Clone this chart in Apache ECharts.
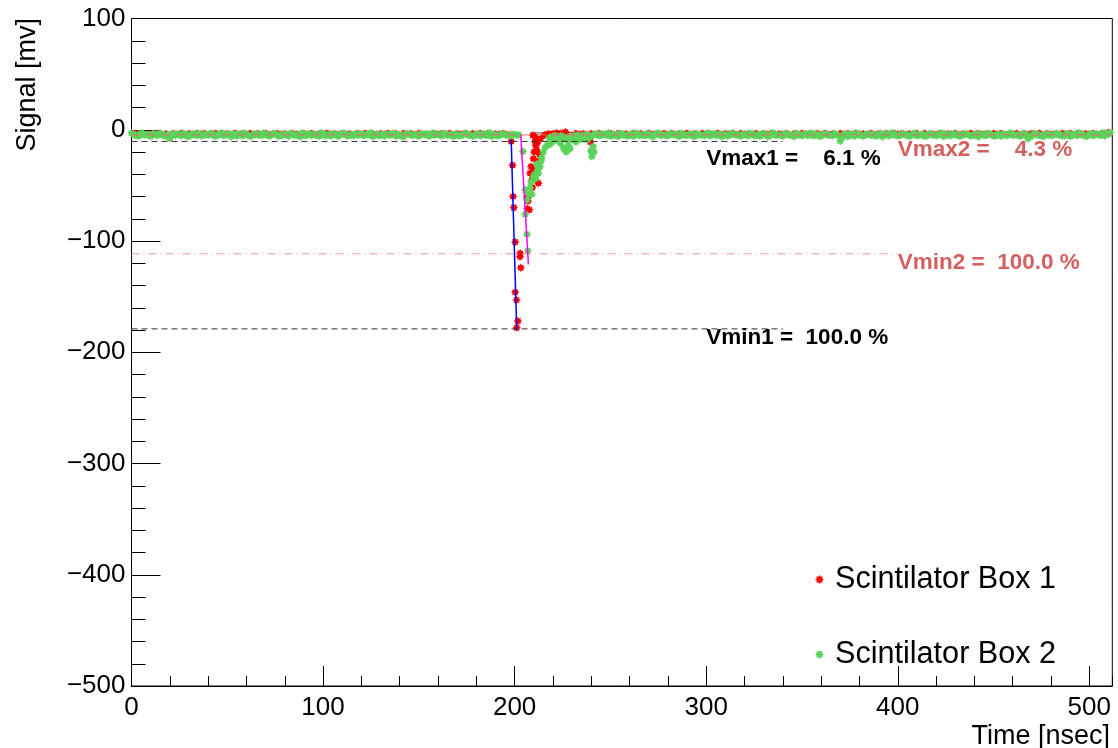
<!DOCTYPE html>
<html><head><meta charset="utf-8">
<script src="https://cdn.jsdelivr.net/npm/echarts@6/dist/echarts.min.js"></script>
<style>html,body{margin:0;padding:0;background:#fff}#c{width:1118px;height:748px}</style>
</head><body><div id="c"></div>
<script>
// ---- data (mV vs nsec) ----
const baseStep = 2; // baseline samples every 2 ns (even: t=0..510, odd: t=1..511)
const redBase = [
 -2.9,-2.4,-3.3,-2.6,-3.6,-2.8,-3.1,-2.3,-3.4,-2.7,-8.5,-2.5,-3.2,-2.2,-3.5,-2.6,-3.7,-2.4,-3.0,-2.3,
 -3.3,-2.7,-2.4,-3.5,-2.9,-2.5,-3.1,-2.2,-3.4,-2.6,-3.0,-2.4,-3.7,-2.5,-3.2,-2.3,-3.5,-2.8,-2.4,-3.1,
 -2.6,-3.4,-2.3,-3.0,-3.6,-2.5,-2.9,-2.4,-3.3,-2.7,-3.5,-2.2,-3.0,-2.6,-3.4,-2.4,-3.1,-2.7,-3.7,-2.5,
 -2.9,-2.3,-3.4,-2.7,-3.2,-2.5,-3.0,-2.2,-3.3,-2.6,-3.6,-2.4,-2.9,-2.5,-3.4,-2.3,-3.1,-2.8,-3.5,-2.4,
 -3.0,-2.6,-3.3,-2.2,-3.5,-2.6,-3.1,-2.4,-3.7,-2.5,-2.9,-2.4,-3.2,-2.3,-3.4,-2.8,-3.0,-2.4,-3.3,-3.6,
 null,null,null,null,null,null,null,null,null,-2.8,-2.5,-3.3,-2.3,-2.8,-3.5,-3.9,-2.4,-3.1,-2.6,-3.4,
 -2.6,-3.2,-2.3,-3.5,-2.9,-2.4,-3.6,-2.3,-3.1,-2.7,-3.4,-2.4,-3.0,-2.5,-3.5,-2.2,-3.2,-2.7,-3.3,-2.4,
 -3.1,-2.4,-3.5,-2.8,-2.9,-2.3,-3.3,-2.6,-3.6,-2.4,-3.0,-2.7,-3.4,-2.3,-3.2,-2.5,-2.9,-2.2,-3.5,-2.4,
 -3.0,-2.8,-3.3,-2.4,-3.5,-2.6,-3.1,-2.2,-3.4,-2.7,-2.9,-2.4,-3.7,-2.5,-3.2,-2.3,-3.0,-2.7,-3.5,-2.4,
 -3.1,-2.3,-3.3,-2.8,-3.6,-2.4,-2.9,-2.5,-3.4,-2.3,-3.2,-2.7,-3.0,-2.2,-3.5,-2.6,-3.1,-2.4,-3.6,-2.3,
 -2.9,-2.5,-3.3,-2.8,-3.0,-2.3,-3.6,-2.4,-3.1,-2.7,-3.4,-2.3,-3.2,-2.6,-2.9,-2.4,-3.5,-2.8,-3.1,-2.2,
 -3.3,-2.5,-3.0,-2.7,-3.6,-2.3,-2.9,-2.4,-3.4,-2.8,-3.1,-2.3,-3.5,-2.6,-3.2,-2.4,-3.0,-2.2,-3.4,-2.5,
 -3.1,-2.7,-3.3,-2.3,-2.9,-2.4,-3.5,-2.2,-3.2,-2.6,-3.0,-2.4,-3.4,-2.8,-2.2,-1.6
];
const greenBaseEven = [
 -3.2,-4.8,-5.6,-3.9,-4.4,-6.1,-3.5,-5.0,-4.2,-5.8,-7.5,-4.6,-3.8,-5.3,-4.1,-6.0,-3.6,-4.9,-5.4,-4.0,
 -4.7,-3.4,-5.9,-4.3,-5.1,-3.7,-6.2,-4.5,-3.9,-5.5,-4.2,-6.0,-3.6,-4.8,-5.2,-4.0,-5.7,-3.5,-4.6,-5.3,
 -4.1,-5.8,-3.8,-4.9,-6.3,-4.4,-3.6,-5.2,-4.7,-5.9,-3.9,-4.5,-5.6,-4.0,-6.1,-3.7,-5.0,-4.3,-5.4,-4.8,
 -3.5,-5.1,-4.6,-6.0,-3.9,-4.8,-5.5,-4.2,-3.6,-5.7,-4.4,-6.2,-3.8,-5.0,-4.5,-5.9,-4.1,-3.7,-5.3,-4.9,
 -4.2,-5.6,-3.8,-4.7,-6.1,-4.3,-5.2,-3.6,-4.9,-5.8,-4.0,-5.4,-3.7,-4.6,-6.0,-4.4,-5.1,-3.9,-4.8,-5.5,
 -4.3,-5.0,null,null,null,null,null,null,null,-7.5,-6.0,-8.5,-5.5,-7.0,-9.0,-6.2,-5.0,-7.8,-5.2,-4.8,
 -6.0,-4.1,-5.3,-3.8,-4.9,-5.7,-4.2,-6.1,-3.6,-5.0,-4.5,-5.8,-3.9,-4.7,-5.4,-4.0,-6.2,-3.7,-5.1,-4.6,
 -5.5,-4.0,-3.7,-5.9,-4.4,-5.2,-3.8,-6.0,-4.7,-5.0,-4.1,-5.6,-3.5,-4.8,-6.3,-4.2,-5.1,-3.9,-4.6,-5.7,
 -4.3,-5.4,-3.6,-4.9,-5.8,-4.1,-6.1,-3.8,-5.0,-4.5,-5.7,-3.9,-4.8,-6.0,-4.2,-5.3,-3.7,-4.6,-5.5,-4.0,
 -5.9,-3.8,-4.7,-5.2,-4.4,-10.0,-4.1,-6.0,-3.7,-5.1,-4.6,-5.8,-3.9,-4.9,-5.4,-4.2,-6.2,-3.6,-5.0,-4.5,
 -5.6,-4.0,-4.8,-6.1,-3.7,-5.3,-4.4,-5.9,-3.9,-4.7,-5.2,-4.1,-6.0,-3.8,-5.0,-4.6,-5.7,-4.3,-3.6,-5.4,
 -4.9,-6.2,-4.0,-5.1,-3.8,-5.6,-4.5,-5.9,-4.2,-3.7,-5.0,-4.6,-5.8,-4.1,-8.0,-5.3,-3.9,-4.8,-6.0,-4.4,
 -5.2,-3.8,-4.7,-5.6,-4.1,-6.0,-3.9,-5.0,-4.5,-5.8,-4.2,-5.3,-3.6,-4.9,-5.5,-4.0
];
const greenBaseOdd = [
 -4.1,-5.3,-3.0,-4.6,-5.0,-3.8,-4.9,-2.9,-5.5,-4.3,-3.6,-5.1,-4.4,-3.3,-5.7,-4.0,-4.8,-3.1,-5.2,-4.5,
 -3.7,-5.4,-4.2,-2.8,-5.0,-4.6,-3.5,-5.6,-4.1,-3.2,-4.9,-5.3,-3.9,-4.4,-2.9,-5.1,-4.7,-3.4,-5.8,-4.0,
 -4.8,-3.3,-5.2,-4.5,-3.0,-5.5,-4.1,-3.8,-4.9,-2.7,-5.3,-4.4,-3.6,-5.0,-4.2,-3.1,-5.6,-4.7,-3.5,-4.3,
 -5.1,-3.9,-2.8,-4.8,-5.4,-3.7,-4.5,-5.0,-3.2,-4.6,-5.7,-4.0,-3.4,-4.9,-5.2,-3.6,-4.4,-5.5,-2.9,-4.1,
 -4.7,-3.3,-5.0,-4.2,-3.8,-5.6,-4.6,-3.1,-4.9,-5.3,-3.6,-4.3,-5.1,-2.8,-4.8,-5.4,-3.9,-4.5,-5.2,-4.4,
 -4.6,null,null,null,null,null,null,null,null,-6.5,-5.2,-7.8,-6.0,-8.2,-5.6,-6.8,-4.9,-5.8,-4.4,-5.3,
 -4.9,-3.5,-5.2,-4.1,-3.0,-5.5,-4.7,-3.3,-4.8,-5.6,-4.0,-3.2,-5.1,-4.4,-3.7,-5.3,-4.6,-2.9,-4.9,-5.0,
 -3.6,-4.5,-5.4,-3.1,-4.8,-4.2,-5.7,-3.4,-4.6,-5.1,-2.8,-4.3,-5.0,-3.9,-4.7,-5.5,-3.3,-4.4,-5.2,-3.8,
 -4.9,-3.2,-5.3,-4.6,-3.7,-4.1,-5.6,-3.0,-4.8,-5.0,-3.5,-4.4,-5.4,-3.3,-4.7,-4.0,-5.1,-2.9,-4.5,-5.7,
 -3.8,-4.6,-5.2,-3.4,-4.9,-7.0,-3.6,-4.3,-5.5,-3.1,-4.8,-5.0,-3.9,-4.2,-5.6,-3.3,-4.7,-5.3,-2.8,-4.4,
 -5.1,-3.7,-4.5,-5.4,-3.2,-4.9,-4.0,-5.7,-3.5,-4.6,-5.0,-3.0,-4.8,-5.3,-3.6,-4.3,-5.5,-3.9,-4.7,-5.2,
 -3.4,-4.8,-5.1,-3.1,-4.5,-5.6,-3.8,-4.2,-5.3,-2.9,-4.7,-5.0,-3.6,-4.4,-6.5,-3.3,-4.9,-5.4,-3.7,-4.6,
 -5.0,-3.2,-4.4,-5.5,-3.5,-4.8,-5.2,-3.0,-4.6,-5.7,-3.4,-4.1,-4.9,-2.6,-3.5,-2.5
];
const redPulseT = [198.2,198.9,199.2,199.6,200.3,200.3,201.0,201.7,201.1,202.9,203.2,202.8,206.4,207.0,207.7,206.6,208.1,209.0,209.8,210.7,211.5,212.4,212.4,210.7,211.0,213.0,224.8,225.6,226.5,239.5,209.5,210.2,208.6,209.3,210.0,211.8,213.5,215.5,217.0,220.0,222.0];
const redPulseV = [-10.5,-32,-60,-70,-101,-146,-153,-172,-178,-111,-124,-114,-61,-64,-72,-71,-39,-45,-26,-10.5,-18,-28,-48,-6,-14,-22,-8,-5,-2,-11,-5,-20,-33,-52,-36,-12,-8,-5,-4,-6,-3];
const greenPulseT = [204.3,205.5,206.4,205.5,206.4,206.9,208.1,209.0,209.8,211.0,212.0,212.4,213.3,214.2,215.0,216.0,218.5,220.0,223.8,225.4,226.0,228.0,230.0,234.0,238.0,240.3,241.0,207.5,208.5,210.5,211.5,213.8,217.0,219.5,222.0,227.0,229.0,232.0,236.0,239.8,241.5];
const greenPulseV = [-19.5,-54,-63,-76,-94,-109,-52,-58,-42,-44,-36,-39,-33,-25,-20,-16,-13,-10,-12,-16,-18,-14,-9,-9,-9,-24,-15,-58,-47,-40,-31,-28,-14,-11,-8,-20,-17,-11,-7,-19,-20];

// reference levels
const vmax1 = -10.5, vmin1 = -179, vmax2 = -4.6, vmin2 = -111.5, baseLevel = -2.8;
const box1LineEnd = 340, box2LineEnd = 400, axisEnd = 512;
// rising-edge fit lines
const fit1T = [198.2, 201.1], fit1V = [-9, -180];
const fit2T = [203.2, 207.2], fit2V = [-4.5, -121];

// annotations
const noteText  = ['Vmax1 =    6.1 %', 'Vmax2 =    4.3 %', 'Vmin2 =  100.0 %', 'Vmin1 =  100.0 %'];
const noteT     = [300, 400, 400, 300];
const noteV     = [-26.3, -18.2, -119.8, -187.2];
const noteColor = ['#000000', '#d35f5f', '#d35f5f', '#000000'];

const seriesNames = ['Scintilator Box 1', 'Scintilator Box 2'];

// ---- build ----
const FONT = '"Liberation Sans", Arial, Helvetica, sans-serif';
const STAR = 'path://M10,0 L6.0,2.49 L7.07,7.07 L2.49,6.0 L0,10 L-2.49,6.0 L-7.07,7.07 L-6.0,2.49 L-10,0 L-6.0,-2.49 L-7.07,-7.07 L-2.49,-6.0 L0,-10 L2.49,-6.0 L7.07,-7.07 L6.0,-2.49 Z';
const RED = '#ff0000', GREEN = '#5ad35a';

function basePairs(vals, offset) { const out = []; vals.forEach((v, i) => { if (v !== null) out.push([i * baseStep + offset, v]); }); return out; }
function pairs(ts, vs) { return ts.map((t, i) => [t, vs[i]]); }

const redBaseData = basePairs(redBase, 0);
const redData = redBaseData.concat(pairs(redPulseT, redPulseV));
const greenData = basePairs(greenBaseEven, 0).concat(basePairs(greenBaseOdd, 1)).concat(pairs(greenPulseT, greenPulseV));
const nRedBase = redBaseData.length;

function hline(v, end, color, dash, z) {
  return { type: 'line', data: [[0, v], [end, v]], symbol: 'none', silent: true, z: z,
    lineStyle: { color: color, width: 1, type: dash }, animation: false };
}

const chart = echarts.init(document.getElementById('c'), null, { renderer: 'canvas' });
chart.setOption({
  animation: false,
  backgroundColor: '#ffffff',
  grid: { left: 131.5, right: 5.7, top: 18.5, bottom: 62, show: true, borderColor: '#000', borderWidth: 1, backgroundColor: 'transparent' },
  xAxis: [
    { type: 'value', min: 0, max: axisEnd, interval: 100,
      axisLine: { onZero: false, lineStyle: { color: '#000', width: 1 } },
      axisTick: { inside: true, length: 20, lineStyle: { color: '#000' } },
      axisLabel: { color: '#000', fontSize: 26, fontFamily: FONT, margin: 9, showMaxLabel: false },
      splitLine: { show: false } },
    { type: 'value', min: 0, max: axisEnd, interval: 20, position: 'bottom', gridIndex: 0,
      axisLine: { show: false, onZero: false },
      axisTick: { inside: true, length: 10, lineStyle: { color: '#000' } },
      axisLabel: { show: false }, splitLine: { show: false } }
  ],
  yAxis: { type: 'value', min: -500, max: 100, interval: 100,
    axisLine: { onZero: false, lineStyle: { color: '#000', width: 1 } },
    axisTick: { inside: true, length: 29, lineStyle: { color: '#000' } },
    minorTick: { show: true, splitNumber: 5, length: 14, lineStyle: { color: '#000' } },
    axisLabel: { color: '#000', fontSize: 26, fontFamily: FONT, margin: 6,
      formatter: v => (v < 0 ? '\u2212' + Math.abs(v) : String(v)) },
    splitLine: { show: false } },
  legend: { data: seriesNames, orient: 'vertical', left: 810, top: 559, padding: 5,
    itemWidth: 9, itemHeight: 9, itemGap: 44,
    textStyle: { fontSize: 30.6, fontFamily: FONT, color: '#000', lineHeight: 30, padding: [0, 0, 0, 6] } },
  graphic: [
    { type: 'text', x: 28, y: 18, rotation: Math.PI / 2, silent: true,
      style: { text: 'Signal [mv]', fontSize: 27, fontFamily: FONT, fill: '#000', align: 'right', verticalAlign: 'middle' } },
    { type: 'text', x: 1110, y: 737, silent: true,
      style: { text: 'Time [nsec]', fontSize: 27, fontFamily: FONT, fill: '#000', align: 'right', verticalAlign: 'middle' } }
  ],
  series: [
    hline(baseLevel, axisEnd, '#555555', [15, 10], 1),
    { name: seriesNames[0], type: 'scatter', data: redData, symbol: STAR, z: 2,
      symbolSize: (val, p) => (p.dataIndex < nRedBase ? 6 : 8.5),
      itemStyle: { color: RED, opacity: 1 }, silent: true },
    { name: seriesNames[1], type: 'scatter', data: greenData, symbol: STAR, symbolSize: 8.5, z: 3,
      itemStyle: { color: GREEN, opacity: 1 }, silent: true },
    hline(vmax1, box1LineEnd, '#333333', [6, 4], 4),
    hline(vmin1, box1LineEnd, '#333333', [6, 4], 4),
    hline(vmax2, axisEnd, '#e07070', [9, 6], 4),
    hline(vmin2, box2LineEnd, '#ee9a9a', [8, 4, 1, 4], 4),
    { type: 'line', data: pairs(fit1T, fit1V), symbol: 'none', silent: true, z: 5, lineStyle: { color: '#0000ff', width: 1.5 } },
    { type: 'line', data: pairs(fit2T, fit2V), symbol: 'none', silent: true, z: 5, lineStyle: { color: '#ff00ff', width: 1.5 } },
    { type: 'scatter', symbolSize: 0, silent: true, z: 6, itemStyle: { opacity: 1 },
      data: noteT.map((t, i) => ({ value: [t, noteV[i]],
        label: { show: true, position: 'right', distance: 0, formatter: noteText[i], color: noteColor[i],
          fontSize: 22.5, fontWeight: 'bold', fontFamily: FONT } })) }
  ]
});
</script></body></html>
